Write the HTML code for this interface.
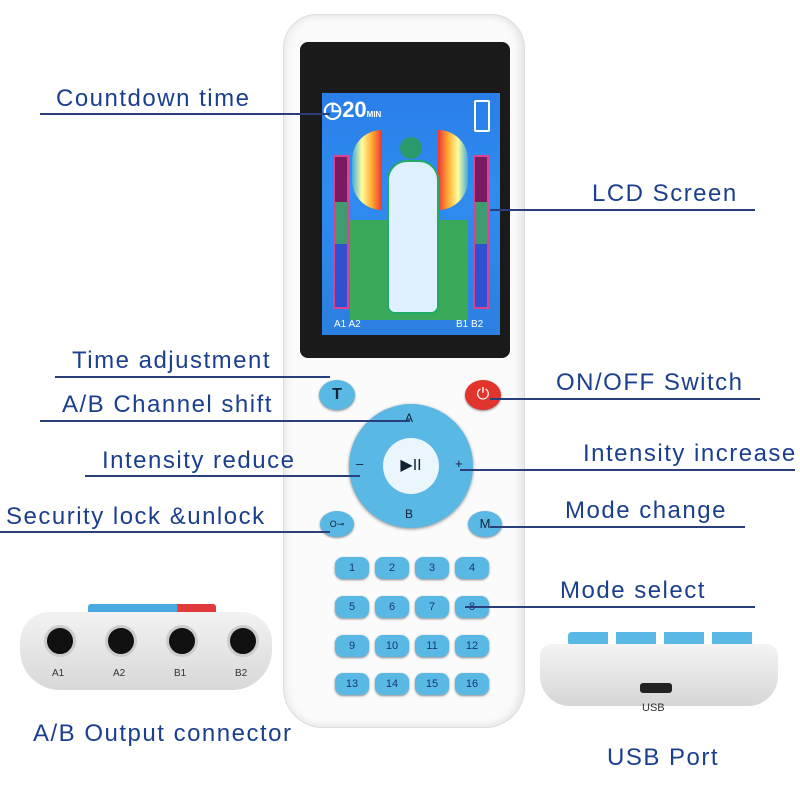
<!DOCTYPE html>
<html><head><meta charset="utf-8"><style>
body{margin:0;width:800px;height:800px;background:#fff;position:relative;overflow:hidden;font-family:"Liberation Sans",sans-serif}
.a{position:absolute}
.lb{position:absolute;color:#1b3f8f;font-size:24px;letter-spacing:1.5px;white-space:nowrap}
.ln{position:absolute;height:1.5px;background:#2a3f7a}
.k{position:absolute;width:34px;height:22px;border-radius:8px;background:#5ab8e4;color:#153a70;font-size:11px;text-align:center;line-height:22px;box-shadow:0 1px 2px #888}
.jack{position:absolute;width:26px;height:26px;border-radius:50%;background:#111;border:3px solid #ccc}
</style></head><body>
<div class="a" style="left:283px;top:14px;width:240px;height:712px;background:#fbfbfb;border-radius:34px 34px 40px 40px;border:1px solid #ddd;box-shadow:inset -4px 0 8px #e4e4e4,inset 4px 0 8px #eee"></div>
<div class="a" style="left:300px;top:42px;width:210px;height:316px;background:#1a1a1a;border-radius:8px"></div>
<div class="a" style="left:322px;top:93px;width:178px;height:242px;background:linear-gradient(#2a7ee8,#2f8cf0 40%,#2b7fe0);"></div>
<div class="a" style="left:350px;top:220px;width:118px;height:100px;background:#3aaa5a"></div>
<div class="a" style="left:323px;top:97px;color:#fff;font-size:22px;font-weight:bold">◷20<span style="font-size:8px">MIN</span></div>
<div class="a" style="left:474px;top:100px;width:12px;height:28px;border:2px solid #fff;border-radius:2px"></div>
<div class="a" style="left:333px;top:155px;width:12px;height:150px;border:2px solid #e04090;background:linear-gradient(#7a1a60 30%,#3f9a70 30%,#3f9a70 58%,#3050d0 58%)"></div>
<div class="a" style="left:473px;top:155px;width:12px;height:150px;border:2px solid #e04090;background:linear-gradient(#7a1a60 30%,#3f9a70 30%,#3f9a70 58%,#3050d0 58%)"></div>
<div class="a" style="left:352px;top:130px;width:30px;height:80px;border-radius:30px 0 0 30px;background:linear-gradient(90deg,#4ad,#ff9,#fa3,#e33)"></div>
<div class="a" style="left:438px;top:130px;width:30px;height:80px;border-radius:0 30px 30px 0;background:linear-gradient(270deg,#4ad,#ff9,#fa3,#e33)"></div>
<div class="a" style="left:400px;top:137px;width:22px;height:22px;border-radius:50%;background:#2a9a6a"></div>
<div class="a" style="left:387px;top:160px;width:48px;height:150px;border-radius:20px 20px 8px 8px;background:#dff0ff;border:2px solid #2a6"></div>
<div class="a" style="left:334px;top:319px;color:#fff;font-size:10px">A1 A2</div>
<div class="a" style="left:456px;top:319px;color:#fff;font-size:10px">B1 B2</div>
<div class="a" style="left:319px;top:380px;width:36px;height:30px;border-radius:50%;background:#5ab8e4;text-align:center;line-height:30px;font-weight:bold;color:#123;box-shadow:0 1px 2px #888">T</div>
<div class="a" style="left:465px;top:380px;width:36px;height:30px;border-radius:50%;background:#e0342c;text-align:center;line-height:30px;color:#fff;box-shadow:0 1px 2px #888">⏻</div>
<div class="a" style="left:349px;top:404px;width:124px;height:124px;border-radius:50%;background:#5ab8e4;box-shadow:0 1px 3px #888"></div>
<div class="a" style="left:383px;top:438px;width:56px;height:56px;border-radius:50%;background:#eaf6fc;text-align:center;line-height:56px;font-size:16px;color:#123">▶II</div>
<div class="a" style="left:405px;top:411px;font-size:12px;color:#123">A</div>
<div class="a" style="left:405px;top:507px;font-size:12px;color:#123">B</div>
<div class="a" style="left:356px;top:456px;font-size:13px;color:#123">–</div>
<div class="a" style="left:455px;top:456px;font-size:13px;color:#123">+</div>
<div class="a" style="left:320px;top:511px;width:34px;height:26px;border-radius:50%;background:#5ab8e4;text-align:center;line-height:26px;font-size:9px;color:#123;box-shadow:0 1px 2px #888">O⊸</div>
<div class="a" style="left:468px;top:511px;width:34px;height:26px;border-radius:50%;background:#5ab8e4;text-align:center;line-height:26px;font-size:13px;color:#123;box-shadow:0 1px 2px #888">M</div>
<div class="k" style="left:335px;top:557px">1</div><div class="k" style="left:375px;top:557px">2</div><div class="k" style="left:415px;top:557px">3</div><div class="k" style="left:455px;top:557px">4</div>
<div class="k" style="left:335px;top:596px">5</div><div class="k" style="left:375px;top:596px">6</div><div class="k" style="left:415px;top:596px">7</div><div class="k" style="left:455px;top:596px">8</div>
<div class="k" style="left:335px;top:635px">9</div><div class="k" style="left:375px;top:635px">10</div><div class="k" style="left:415px;top:635px">11</div><div class="k" style="left:455px;top:635px">12</div>
<div class="k" style="left:335px;top:673px">13</div><div class="k" style="left:375px;top:673px">14</div><div class="k" style="left:415px;top:673px">15</div><div class="k" style="left:455px;top:673px">16</div>
<div class="a" style="left:88px;top:604px;width:128px;height:10px;background:linear-gradient(90deg,#4aa8e0 70%,#e03a3a 70%);border-radius:3px"></div>
<div class="a" style="left:20px;top:612px;width:252px;height:78px;background:linear-gradient(#f2f2f2,#d8d8d8);border-radius:30px 30px 40px 40px"></div>
<div class="jack" style="left:44px;top:625px"></div><div class="jack" style="left:105px;top:625px"></div><div class="jack" style="left:166px;top:625px"></div><div class="jack" style="left:227px;top:625px"></div>
<div class="a" style="left:52px;top:668px;font-size:10px;color:#333">A1</div><div class="a" style="left:113px;top:668px;font-size:10px;color:#333">A2</div><div class="a" style="left:174px;top:668px;font-size:10px;color:#333">B1</div><div class="a" style="left:235px;top:668px;font-size:10px;color:#333">B2</div>
<div class="a" style="left:568px;top:632px;width:190px;height:14px;background:repeating-linear-gradient(90deg,#5ab8e4 0 40px,#fff 40px 48px);border-radius:4px"></div>
<div class="a" style="left:540px;top:644px;width:238px;height:62px;background:linear-gradient(#f4f4f4,#d6d6d6);border-radius:12px 12px 30px 30px"></div>
<div class="a" style="left:640px;top:683px;width:32px;height:10px;background:#222;border-radius:3px"></div>
<div class="a" style="left:642px;top:702px;font-size:11px;color:#333">USB</div>
<div class="lb" style="left:56px;top:85px">Countdown time</div><div class="ln" style="left:40px;top:113px;width:290px"></div>
<div class="lb" style="left:592px;top:180px">LCD Screen</div><div class="ln" style="left:490px;top:209px;width:265px"></div>
<div class="lb" style="left:72px;top:347px">Time adjustment</div><div class="ln" style="left:55px;top:376px;width:275px"></div>
<div class="lb" style="left:556px;top:369px">ON/OFF Switch</div><div class="ln" style="left:490px;top:398px;width:270px"></div>
<div class="lb" style="left:62px;top:391px">A/B Channel shift</div><div class="ln" style="left:40px;top:420px;width:370px"></div>
<div class="lb" style="left:102px;top:447px">Intensity reduce</div><div class="ln" style="left:85px;top:475px;width:275px"></div>
<div class="lb" style="left:583px;top:440px">Intensity increase</div><div class="ln" style="left:460px;top:469px;width:335px"></div>
<div class="lb" style="left:6px;top:503px">Security lock &amp;unlock</div><div class="ln" style="left:0px;top:531px;width:330px"></div>
<div class="lb" style="left:565px;top:497px">Mode change</div><div class="ln" style="left:490px;top:526px;width:255px"></div>
<div class="lb" style="left:560px;top:577px">Mode select</div><div class="ln" style="left:465px;top:606px;width:290px"></div>
<div class="lb" style="left:33px;top:720px">A/B Output connector</div>
<div class="lb" style="left:607px;top:744px">USB Port</div>
</body></html>
